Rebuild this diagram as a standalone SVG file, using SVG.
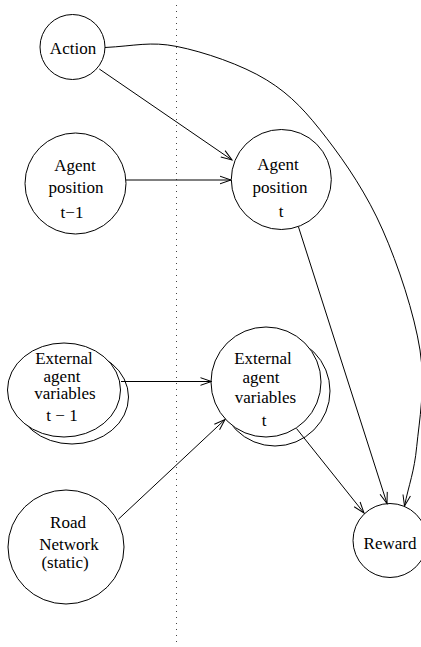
<svg xmlns="http://www.w3.org/2000/svg" width="421" height="647" viewBox="0 0 421 647">
  <style>
    .node { fill: #fff; stroke: #000; stroke-width: 1; }
    .lbl { font-family: "Liberation Serif", "Times New Roman", serif; font-size: 17px; fill: #000; text-anchor: middle; }
    .edge { fill: none; stroke: #000; stroke-width: 1; }
    .divider { fill: none; stroke: #444; stroke-width: 1; stroke-dasharray: 1 5; }
  </style>
  <defs>
    <marker id="arrow" markerUnits="userSpaceOnUse" markerWidth="14" markerHeight="10" viewBox="-12 -5 13 10" refX="0" refY="0" orient="auto">
      <path d="M-11,-3.8 L0,0 L-11,3.8" fill="none" stroke="#000" stroke-width="1"/>
    </marker>
  </defs>
  <rect width="421" height="647" fill="#fff"/>

  <!-- time-slice divider -->
  <line class="divider" x1="176.5" y1="5" x2="176.5" y2="647"/>

  <g id="node-action">
    <circle class="node" cx="72.5" cy="47" r="32.5"/>
    <text class="lbl" x="73" y="54">Action</text>
  </g>

  <g id="node-agent-pos-prev">
    <circle class="node" cx="75.5" cy="183.5" r="50.5"/>
    <text class="lbl" x="75" y="171">Agent</text>
    <text class="lbl" x="76" y="193">position</text>
    <text class="lbl" x="72" y="218">t−1</text>
  </g>

  <g id="node-agent-pos-now">
    <circle class="node" cx="281.3" cy="179.5" r="50"/>
    <text class="lbl" x="278" y="170">Agent</text>
    <text class="lbl" x="280" y="193">position</text>
    <text class="lbl" x="281" y="217">t</text>
  </g>

  <g id="node-ext-prev">
    <ellipse class="node" cx="72" cy="397" rx="56.5" ry="47"/>
    <ellipse class="node" cx="64" cy="390" rx="56.5" ry="47"/>
    <text class="lbl" x="64" y="364">External</text>
    <text class="lbl" x="62" y="382">agent</text>
    <text class="lbl" x="65" y="399">variables</text>
    <text class="lbl" x="62" y="421">t − 1</text>
  </g>

  <g id="node-ext-now">
    <circle class="node" cx="275" cy="391" r="55"/>
    <circle class="node" cx="266" cy="382" r="55"/>
    <text class="lbl" x="263" y="364">External</text>
    <text class="lbl" x="261" y="383">agent</text>
    <text class="lbl" x="265.5" y="403">variables</text>
    <text class="lbl" x="264" y="426">t</text>
  </g>

  <g id="node-road">
    <ellipse class="node" cx="66" cy="547" rx="58" ry="57"/>
    <text class="lbl" x="68" y="528">Road</text>
    <text class="lbl" x="69" y="550">Network</text>
    <text class="lbl" x="65" y="568">(static)</text>
  </g>

  <g id="node-reward">
    <circle class="node" cx="390" cy="540.5" r="37"/>
    <text class="lbl" x="390" y="549">Reward</text>
  </g>

  <g id="connectors">
    <line class="edge" x1="99.3" y1="69" x2="232" y2="160" marker-end="url(#arrow)"/>
    <line class="edge" x1="126" y1="180" x2="231" y2="180" marker-end="url(#arrow)"/>
    <path class="edge" d="M105,47.5 C135,46 150,41.1 177,46.5 C204,51.9 241.8,64.7 266.7,80 C291.7,95.3 307.4,113.3 326.7,138.3 C346,163.3 367.2,194.7 382.7,230 C398.3,265.3 414.3,313.9 420,350 C425.7,386.1 419.2,421.2 416.7,446.7 C414.2,472.2 409,484 404.5,506" marker-end="url(#arrow)"/>
    <line class="edge" x1="298.5" y1="227" x2="387" y2="503.5" marker-end="url(#arrow)"/>
    <line class="edge" x1="121" y1="381.5" x2="211.5" y2="381.5" marker-end="url(#arrow)"/>
    <line class="edge" x1="118.3" y1="519.3" x2="225" y2="419.5" marker-end="url(#arrow)"/>
    <line class="edge" x1="296.5" y1="428.5" x2="364" y2="513" marker-end="url(#arrow)"/>
  </g>
</svg>
